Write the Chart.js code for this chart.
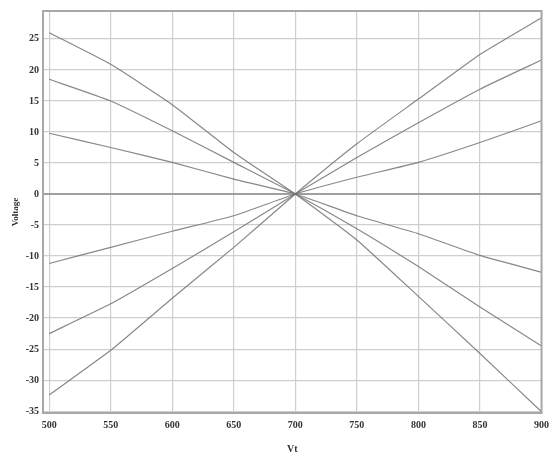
<!DOCTYPE html>
<html>
<head>
<meta charset="utf-8">
<script src="https://cdn.jsdelivr.net/npm/chart.js@4/dist/chart.umd.min.js"></script>
<style>
  html, body { margin: 0; padding: 0; background: #fff; }
  #wrap { width: 555px; height: 459px; }
</style>
</head>
<body>
<div id="wrap"><canvas id="voltChart"></canvas></div>
<script>
// Vt values along the x axis
const vt = [500, 550, 600, 650, 700, 750, 800, 850, 900];

// six voltage curves, all crossing zero at Vt = 700
const lineA = [26.0, 20.9, 14.4, 6.7, 0, -7.4, -16.5, -25.7, -35.1];
const lineB = [18.5, 15.0, 10.2, 5.1, 0, -5.6, -11.7, -18.2, -24.5];
const lineC = [9.8, 7.5, 5.1, 2.4, 0, -3.5, -6.4, -9.9, -12.6];
const lineD = [-11.2, -8.6, -6.0, -3.5, 0, 2.7, 5.1, 8.3, 11.8];
const lineE = [-22.5, -17.7, -12.0, -6.1, 0, 5.9, 11.5, 16.9, 21.6];
const lineF = [-32.4, -25.2, -16.8, -8.6, 0, 8.1, 15.3, 22.5, 28.4];

const xTicks = [500, 550, 600, 650, 700, 750, 800, 850, 900];
const yTicks = [25, 20, 15, 10, 5, 0, -5, -10, -15, -20, -25, -30, -35];

const allLines = [lineA, lineB, lineC, lineD, lineE, lineF];

const datasets = allLines.map((vals) => ({
    data: vals.map((v, i) => ({ x: vt[i], y: v })),
    borderColor: "rgba(115, 115, 115, 0.85)",
    borderWidth: 1.2,
    pointRadius: 0,
    tension: 0.15,
    fill: false
}));

const tickFont = { family: "Liberation Serif", size: 10, weight: "bold" };

new Chart(document.getElementById("voltChart"), {
    type: "line",
    data: { datasets },
    options: {
        responsive: true,
        maintainAspectRatio: false,
        animation: false,
        layout: { padding: { top: 11, right: 7, left: 0, bottom: 0 } },
        plugins: { legend: { display: false }, tooltip: { enabled: false } },
        scales: {
            x: {
                type: "linear",
                min: 495,
                max: 900,
                afterBuildTicks: (scale) => { scale.ticks = xTicks.map(v => ({ value: v })); },
                afterFit: (scale) => { scale.height = 46; },
                grid: {
                    color: "#cfcfcf",
                    lineWidth: 1.2,
                    drawTicks: false
                },
                border: { color: "#a8a8a8", width: 2 },
                ticks: { color: "#333", font: tickFont, padding: 6, maxRotation: 0 },
                title: {
                    display: true,
                    text: "Vt",
                    color: "#333",
                    font: { family: "Liberation Serif", size: 10, weight: "bold" },
                    padding: { top: 4 }
                }
            },
            y: {
                min: -35.3,
                max: 29.5,
                afterBuildTicks: (scale) => { scale.ticks = yTicks.map(v => ({ value: v })); },
                afterFit: (scale) => { scale.width = 43; },
                grid: {
                    color: (ctx) => ctx.tick && ctx.tick.value === 0 ? "#a0a0a0" : "#cfcfcf",
                    lineWidth: (ctx) => ctx.tick && ctx.tick.value === 0 ? 2 : 1.2,
                    drawTicks: false
                },
                border: { color: "#a8a8a8", width: 2 },
                ticks: { color: "#333", font: tickFont, padding: 4 },
                title: {
                    display: true,
                    text: "Voltage",
                    color: "#333",
                    font: { family: "Liberation Serif", size: 9, weight: "bold" },
                    padding: { top: 10, bottom: 0 }
                }
            }
        }
    },
    plugins: [{
        id: "frame",
        afterDraw(chart) {
            const { ctx, chartArea: a } = chart;
            ctx.save();
            ctx.strokeStyle = "#a8a8a8";
            ctx.lineWidth = 2;
            ctx.strokeRect(a.left, a.top, a.right - a.left, a.bottom - a.top);
            ctx.restore();
        }
    }]
});
</script>
</body>
</html>
